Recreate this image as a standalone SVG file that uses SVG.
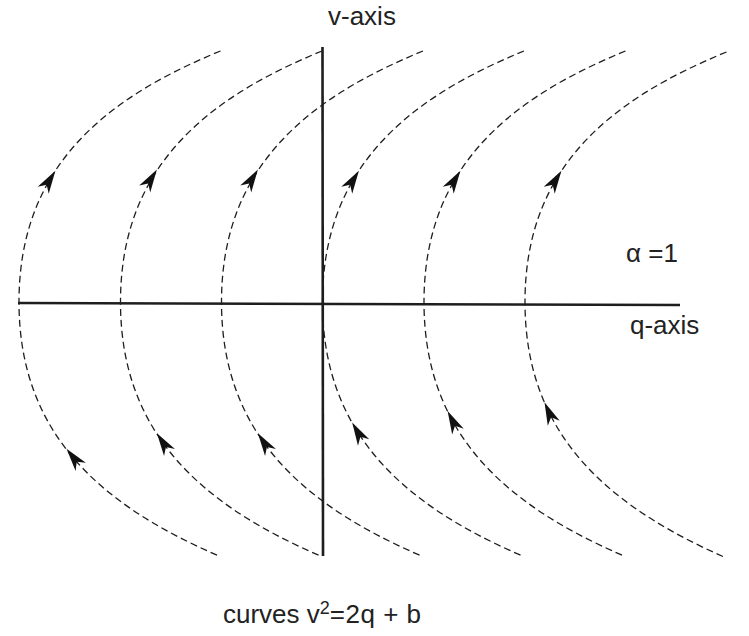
<svg xmlns="http://www.w3.org/2000/svg" width="749" height="636" viewBox="0 0 749 636">
<style>
.axis{stroke:#1e1e1e;stroke-width:2.6;fill:none}
.curve{stroke:#1e1e1e;stroke-width:1.3;fill:none;stroke-dasharray:7 4}
.lbl{font-family:"Liberation Sans",Arial,sans-serif;font-size:26px;fill:#222}
.ah{fill:#111}
</style>
<defs>
<path id="arrow" d="M0,0 L-23,-6.5 L-16.5,0 L-23,6.5 Z"/>
</defs>
<rect width="749" height="636" fill="#fff"/>
<g id="axes">
<line id="q-axis" class="axis" x1="18" y1="303" x2="680" y2="305"/>
<line id="v-axis" class="axis" x1="322.5" y1="47" x2="323" y2="556"/>
</g>
<g id="connectors">
<path class="curve" d="M220.5,51 C100.5,100 19,170 19,302 C19,434 100.5,505 219,556"/>
<path class="curve" d="M322,51 C202,100 120.5,170 120.5,302 C120.5,434 202,505 320.5,556"/>
<path class="curve" d="M423,51 C303,100 221.5,170 221.5,302 C221.5,434 303,505 421.5,556"/>
<path class="curve" d="M524,51 C404,100 322.5,170 322.5,302 C322.5,434 404,505 522.5,556"/>
<path class="curve" d="M625.5,51 C505.5,100 424,170 424,302 C424,434 505.5,505 624,556"/>
<path class="curve" d="M726.5,52 C606.5,101 525,170 525,302 C525,434 606.5,505 724,557"/>
</g>
<g id="arrowheads">
<use href="#arrow" class="ah" transform="translate(55.4,170.7) rotate(-58)"/>
<use href="#arrow" class="ah" transform="translate(156.9,169.5) rotate(-58)"/>
<use href="#arrow" class="ah" transform="translate(257.9,169.5) rotate(-58)"/>
<use href="#arrow" class="ah" transform="translate(358.9,170.7) rotate(-58)"/>
<use href="#arrow" class="ah" transform="translate(460.4,170.7) rotate(-58)"/>
<use href="#arrow" class="ah" transform="translate(561.4,170.7) rotate(-58)"/>
<use href="#arrow" class="ah" transform="translate(66.5,448.8) rotate(-128.2)"/>
<use href="#arrow" class="ah" transform="translate(156.9,433.3) rotate(-123.2)"/>
<use href="#arrow" class="ah" transform="translate(257.9,433.3) rotate(-123.2)"/>
<use href="#arrow" class="ah" transform="translate(352.2,422.5) rotate(-119.8)"/>
<use href="#arrow" class="ah" transform="translate(447.6,411.1) rotate(-116.8)"/>
<use href="#arrow" class="ah" transform="translate(544.5,402.2) rotate(-113.7)"/>
</g>
<g id="labels">
<text id="v-label" class="lbl" x="328" y="25">v-axis</text>
<text id="q-label" class="lbl" x="630" y="334">q-axis</text>
<text id="alpha-label" class="lbl" x="626" y="262">α =1</text>
<text id="caption" class="lbl" x="223" y="623">curves v<tspan font-size="18" dy="-9">2</tspan><tspan dy="9" letter-spacing="0.5">=2q + b</tspan></text>
</g>
</svg>
